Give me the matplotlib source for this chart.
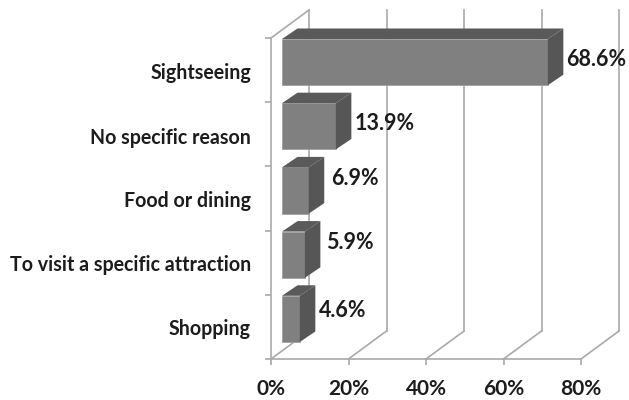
import matplotlib
matplotlib.use("Agg")
import matplotlib.pyplot as plt
from matplotlib.patches import Polygon
from matplotlib.transforms import Affine2D

plt.rcParams['font.family'] = ['Lato', 'DejaVu Sans']

categories = ['Sightseeing', 'No specific reason', 'Food or dining',
              'To visit a specific attraction', 'Shopping']
values = [68.6, 13.9, 6.9, 5.9, 4.6]
labels = ['68.6%', '13.9%', '6.9%', '5.9%', '4.6%']
x_ticks = [0, 20, 40, 60, 80]
x_ticklabels = ['0%', '20%', '40%', '60%', '80%']

# pixel offsets for the fake 3d look
wall_dx, wall_dy = 38, 28
bar_dx, bar_dy = 11, 8
side_dx, side_dy = 15.5, 10.5
label_shift = [(3, 3), (3, 3), (7, 12), (6, 12), (4, 8)]
cat_shift = [-3, -4, -3, -2, -2]

grid_col = '#a9a9a9'
text_col = '#1c1c1c'

W, H = 629, 400
fig = plt.figure(figsize=(W / 100, H / 100), dpi=100)
ax = fig.add_axes([271 / W, 1 - 359 / H, 310 / W, 321 / H])
ax.set_xlim(0, 80)
ax.set_ylim(4.5, -0.5)
for s in ax.spines.values():
    s.set_visible(False)
ax.patch.set_alpha(0)


def shifted(dx, dy):
    return ax.transData + Affine2D().translate(dx, dy)


# walls and floor
back = shifted(wall_dx, wall_dy)
for t in x_ticks:
    ax.plot([t, t], [-0.5, 4.5], color=grid_col, lw=1.2, transform=back,
            clip_on=False, zorder=1)
    ax.plot([t, t + wall_dx * 80 / 310], [4.5, 4.5 - wall_dy * 5 / 321],
            color=grid_col, lw=1.2, clip_on=False, zorder=1)
ax.plot([0, wall_dx * 80 / 310], [-0.5, -0.5 - wall_dy * 5 / 321],
        color=grid_col, lw=1.2, clip_on=False, zorder=1)
ax.plot([0, 0], [-0.5, 4.5], color=grid_col, lw=1.2, clip_on=False, zorder=2)
ax.plot([0, 80], [4.5, 4.5], color=grid_col, lw=1.2, clip_on=False, zorder=2)

# bars
bar_h = 0.72
bar_tr = shifted(bar_dx, bar_dy)
ypos = list(range(len(values)))
ax.barh(ypos, values, height=bar_h, color='#808080', edgecolor='#a0a0a0',
        linewidth=0.6, transform=bar_tr, zorder=4, clip_on=False)
ux = 80 / 310
uy = 5 / 321
for y, v in zip(ypos, values):
    top = y - bar_h / 2
    bot = y + bar_h / 2
    # white glare hiding the back wall behind the bar corner
    if y > 0:
        ax.add_patch(Polygon([(0, top), (side_dx * ux, top - side_dy * uy),
                              (side_dx * ux, top - (side_dy + 6) * uy), (0, top - 6 * uy)],
                             facecolor='white', edgecolor='none', transform=bar_tr,
                             zorder=3, clip_on=False))
    ax.add_patch(Polygon([(0, top), (v, top), (v + side_dx * ux, top - side_dy * uy),
                          (side_dx * ux, top - side_dy * uy)],
                         facecolor='#5a5a5a', edgecolor='none', transform=bar_tr,
                         zorder=4, clip_on=False))
    ax.add_patch(Polygon([(v, top), (v + side_dx * ux, top - side_dy * uy),
                          (v + side_dx * ux, bot - side_dy * uy), (v, bot)],
                         facecolor='#565656', edgecolor='none', transform=bar_tr,
                         zorder=4, clip_on=False))

# value labels
for y, v, lab, nudge in zip(ypos, values, labels, label_shift):
    ax.annotate(lab, (v, y), xycoords=bar_tr, xytext=(side_dx + nudge[0], nudge[1]),
                textcoords='offset pixels', fontsize=15.5, fontweight='bold', color=text_col,
                ha='left', va='center', zorder=6, annotation_clip=False)

# axes ticks
ax.set_xticks(x_ticks)
ax.set_xticklabels(x_ticklabels, fontsize=15, fontweight='bold', color=text_col)
ax.set_yticks([-0.5, 0.5, 1.5, 2.5, 3.5, 4.5])
ax.set_yticklabels([])
ax.tick_params(axis='both', color=grid_col, width=1.2, length=4.5)
ax.tick_params(axis='x', pad=10)
for y, c, nudge in zip(ypos, categories, cat_shift):
    ax.annotate(c, (0, y), xycoords=ax.get_yaxis_transform(), xytext=(-20, nudge),
                textcoords='offset pixels', fontsize=14.1, fontweight='bold', color=text_col,
                ha='right', va='center', annotation_clip=False)

fig.savefig('out.png', dpi=100)
